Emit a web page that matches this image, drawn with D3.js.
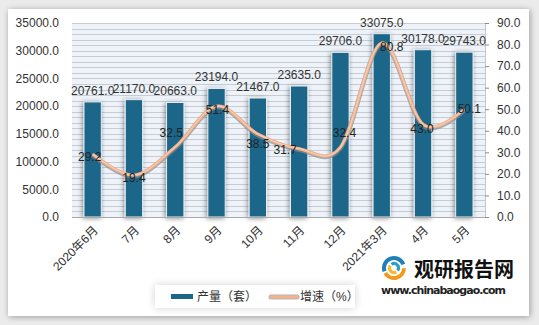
<!DOCTYPE html>
<html>
<head>
<meta charset="utf-8">
<script src="https://cdn.jsdelivr.net/npm/d3@7"></script>
<style>
  body { margin: 0; background: #ebebeb; }
  svg { display: block; font-family: "Liberation Sans", "Noto Sans CJK SC", sans-serif; }
</style>
</head>
<body>
<div id="chart"></div>
<script>
// data
var months = ["2020年6月", "7月", "8月", "9月", "10月", "11月", "12月", "2021年3月", "4月", "5月"];
var output = [20761, 21170, 20663, 23194, 21467, 23635, 29706, 33075, 30178, 29743];
var growth = [29.2, 19.4, 32.5, 51.4, 38.5, 31.7, 32.4, 80.8, 43.0, 50.1];
var leftTicks = [0, 5000, 10000, 15000, 20000, 25000, 30000, 35000];
var rightTicks = [0, 10, 20, 30, 40, 50, 60, 70, 80, 90];
// little nudges for the growth labels (dx, dy), as placed in the original
var growthLabelNudge = [[-3, 3], [0, 3], [-4, -14], [1, 4], [0, 10], [-14, 1], [4, -14], [10, 4], [-1, 4], [5, 0]];

var W = 539, H = 325;
var m = { left: 72, right: 485, top: 23, bottom: 217 };

var svg = d3.select("#chart").append("svg").attr("width", W).attr("height", H);
var defs = svg.append("defs");

var sh = defs.append("filter").attr("id", "frameShadow").attr("x", "-5%").attr("y", "-5%").attr("width", "110%").attr("height", "110%");
sh.append("feGaussianBlur").attr("in", "SourceAlpha").attr("stdDeviation", 3);
sh.append("feOffset").attr("dx", 1).attr("dy", 1).attr("result", "b");
sh.append("feComponentTransfer").append("feFuncA").attr("type", "linear").attr("slope", 0.35);
var mg = sh.append("feMerge");
mg.append("feMergeNode");
mg.append("feMergeNode").attr("in", "SourceGraphic");

var bs = defs.append("filter").attr("id", "barShadow").attr("x", "-50%").attr("y", "-10%").attr("width", "200%").attr("height", "120%");
bs.append("feGaussianBlur").attr("in", "SourceAlpha").attr("stdDeviation", 2.5);
bs.append("feOffset").attr("dx", -1).attr("dy", 1).attr("result", "b");
bs.append("feComponentTransfer").append("feFuncA").attr("type", "linear").attr("slope", 0.45);
var mg2 = bs.append("feMerge");
mg2.append("feMergeNode");
mg2.append("feMergeNode").attr("in", "SourceGraphic");

var ls = defs.append("filter").attr("id", "legShadow").attr("x", "-10%").attr("y", "-40%").attr("width", "120%").attr("height", "180%");
ls.append("feGaussianBlur").attr("in", "SourceAlpha").attr("stdDeviation", 4);
ls.append("feComponentTransfer").append("feFuncA").attr("type", "linear").attr("slope", 0.18);
var mg3 = ls.append("feMerge");
mg3.append("feMergeNode");
mg3.append("feMergeNode").attr("in", "SourceGraphic");

// outer frame
svg.append("rect").attr("x", 8).attr("y", 9).attr("width", 521).attr("height", 307)
  .attr("fill", "#fff").attr("filter", "url(#frameShadow)");

var x = d3.scaleBand().domain(months).range([m.left, m.right]).paddingInner(0.58).paddingOuter(0.29);
var yL = d3.scaleLinear().domain([0, 35000]).range([m.bottom, m.top]);
var yR = d3.scaleLinear().domain([0, 90]).range([m.bottom, m.top]);

// plot background + dense gridlines every 1000
svg.append("rect").attr("x", m.left).attr("y", m.top).attr("width", m.right - m.left).attr("height", m.bottom - m.top)
  .attr("fill", "#edf3f9");
svg.append("g").selectAll("line").data(d3.range(1000, 35001, 1000)).join("line")
  .attr("x1", m.left).attr("x2", m.right)
  .attr("y1", function (d) { return Math.round(yL(d)) + 0.5; })
  .attr("y2", function (d) { return Math.round(yL(d)) + 0.5; })
  .attr("stroke", "#c6ccd2").attr("stroke-width", 1);

// bars
svg.append("g").selectAll("rect").data(output).join("rect")
  .attr("x", function (d, i) { return x(months[i]); })
  .attr("y", function (d) { return yL(d); })
  .attr("width", x.bandwidth())
  .attr("height", function (d) { return yL(0) - yL(d); })
  .attr("fill", "#1c6689")
  .attr("stroke", "#e8eef3").attr("stroke-width", 1)
  .attr("filter", "url(#barShadow)");

// axes
svg.append("line").attr("x1", m.left).attr("x2", m.right).attr("y1", m.bottom + 0.5).attr("y2", m.bottom + 0.5)
  .attr("stroke", "#a8a8a8");
svg.append("line").attr("x1", m.right + 0.5).attr("x2", m.right + 0.5).attr("y1", m.top).attr("y2", m.bottom)
  .attr("stroke", "#c8c8c8");

var axL = svg.append("g").attr("transform", "translate(" + m.left + ",0)")
  .call(d3.axisLeft(yL).tickValues(leftTicks).tickFormat(d3.format(".1f")).tickSize(0).tickPadding(13));
axL.select(".domain").remove();
axL.selectAll("text").attr("font-size", 12).attr("fill", "#333").attr("font-family", "Liberation Sans, sans-serif");

var axR = svg.append("g").attr("transform", "translate(" + m.right + ",0)")
  .call(d3.axisRight(yR).tickValues(rightTicks).tickFormat(d3.format(".1f")).tickSize(4).tickPadding(8));
axR.select(".domain").remove();
axR.selectAll("line").attr("stroke", "#8c8c8c");
axR.selectAll("text").attr("font-size", 12).attr("fill", "#333").attr("font-family", "Liberation Sans, sans-serif");

// x labels, rotated
svg.append("g").selectAll("text").data(months).join("text")
  .attr("transform", function (d) { return "translate(" + (x(d) + x.bandwidth() / 2 + 3) + "," + (m.bottom + 11) + ") rotate(-45)"; })
  .attr("text-anchor", "end")
  .attr("dy", "0.35em")
  .attr("font-size", 12).attr("fill", "#333")
  .text(function (d) { return d; });

// growth line
var cx = function (i) { return x(months[i]) + x.bandwidth() / 2; };
var line = d3.line()
  .x(function (d, i) { return cx(i); })
  .y(function (d) { return yR(d); })
  .curve(d3.curveCardinal.tension(0));
svg.append("path").datum(growth).attr("d", line)
  .attr("fill", "none").attr("stroke", "#8f8f8f").attr("stroke-opacity", 0.7).attr("stroke-width", 4.5)
  .attr("transform", "translate(0,1)");
svg.append("path").datum(growth).attr("d", line)
  .attr("fill", "none").attr("stroke", "#f6b28c").attr("stroke-width", 3);
svg.append("path").datum(growth).attr("d", line)
  .attr("fill", "none").attr("stroke", "#fbd2b8").attr("stroke-width", 1);

// bar value labels
svg.append("g").selectAll("text").data(output).join("text")
  .attr("x", function (d, i) { return cx(i); })
  .attr("y", function (d) { return yL(d) - 7; })
  .attr("text-anchor", "middle")
  .attr("font-size", 12).attr("fill", "#333")
  .text(function (d) { return d3.format(".1f")(d); });

// growth labels
svg.append("g").selectAll("text").data(growth).join("text")
  .attr("x", function (d, i) { return cx(i) + growthLabelNudge[i][0]; })
  .attr("y", function (d, i) { return yR(d) + growthLabelNudge[i][1]; })
  .attr("dy", "0.35em")
  .attr("text-anchor", "middle")
  .attr("font-size", 12).attr("fill", "#222")
  .text(function (d) { return d3.format(".1f")(d); });

// legend
var leg = svg.append("g");
leg.append("rect").attr("x", 155).attr("y", 285).attr("width", 200).attr("height", 23)
  .attr("fill", "#fff").attr("filter", "url(#legShadow)");
leg.append("rect").attr("x", 171).attr("y", 294).attr("width", 22).attr("height", 5).attr("fill", "#1c6689");
leg.append("text").attr("x", 197).attr("y", 301).attr("font-size", 12).attr("fill", "#333").text("产量（套）");
leg.append("line").attr("x1", 271).attr("x2", 297).attr("y1", 297).attr("y2", 297)
  .attr("stroke", "#b5b5b5").attr("stroke-width", 5).attr("stroke-linecap", "round");
leg.append("line").attr("x1", 271).attr("x2", 297).attr("y1", 297).attr("y2", 297)
  .attr("stroke", "#f6b28c").attr("stroke-width", 3).attr("stroke-linecap", "round");
leg.append("text").attr("x", 300).attr("y", 301).attr("font-size", 12).attr("fill", "#333").text("增速（%）");

// logo
var logo = svg.append("g").attr("transform", "translate(394,268)");
var arc = d3.arc();
logo.append("path").attr("d", arc({ innerRadius: 8, outerRadius: 12, startAngle: -1.9, endAngle: 1.2 })).attr("fill", "#1f7fb8");
logo.append("path").attr("d", arc({ innerRadius: 3, outerRadius: 6, startAngle: -0.6, endAngle: 2.2 })).attr("fill", "#2aa0c8");
logo.append("path").attr("d", arc({ innerRadius: 8, outerRadius: 12, startAngle: 1.6, endAngle: 4.2 })).attr("fill", "#f39a1e");
logo.append("path").attr("d", arc({ innerRadius: 3, outerRadius: 6, startAngle: 2.6, endAngle: 5.3 })).attr("fill", "#f7b731");
svg.append("text").attr("x", 414).attr("y", 277).attr("font-size", 20).attr("font-weight", "bold")
  .attr("fill", "#111").attr("font-family", "Noto Sans CJK SC, sans-serif").text("观研报告网");
svg.append("text").attr("x", 381).attr("y", 294).attr("font-size", 11).attr("font-weight", "bold")
  .attr("fill", "#222").attr("font-family", "DejaVu Sans, sans-serif").attr("textLength", 125).text("www.chinabaogao.com");
</script>
</body>
</html>
